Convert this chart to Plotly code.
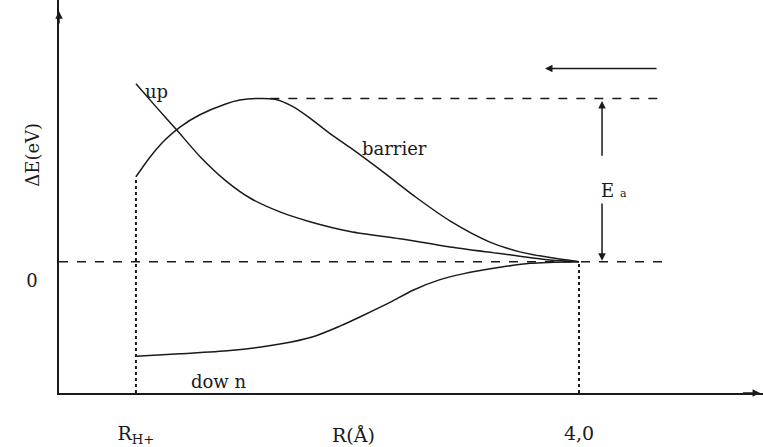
import plotly.graph_objects as go

# Potential energy curves vs. separation R (Å); energies in eV relative to the asymptote
barrier_r = [1.000, 1.095, 1.196, 1.298, 1.433, 1.603, 1.704, 1.819, 1.941, 2.063, 2.178, 2.314, 2.449,
             2.673, 2.903, 3.126, 3.397, 3.600, 3.804, 4.000]
barrier_e = [1.04, 1.28, 1.49, 1.65, 1.80, 1.93, 1.98, 2.00, 1.99, 1.90, 1.76, 1.57, 1.40,
             1.10, 0.78, 0.50, 0.24, 0.12, 0.05, 0.00]

up_r = [1.000, 1.135, 1.278, 1.433, 1.603, 1.772, 1.975, 2.178, 2.449, 2.788, 3.126, 3.465, 3.804, 4.000]
up_e = [2.18, 1.90, 1.61, 1.29, 1.00, 0.78, 0.61, 0.49, 0.37, 0.28, 0.18, 0.10, 0.02, 0.00]

down_r = [1.000, 1.298, 1.637, 1.975, 2.199, 2.381, 2.537, 2.720, 2.876, 3.059, 3.214, 3.465, 3.668, 4.000]
down_e = [-1.16, -1.13, -1.09, -1.01, -0.92, -0.79, -0.66, -0.50, -0.35, -0.22, -0.15, -0.07, -0.02, 0.00]

tick_r = [1.0, 4.0]
tick_r_text = ["R<sub>H+</sub>", "4,0"]
tick_e = [0]
tick_e_text = ["0"]

FONT = "DejaVu Serif"
INK = "#1a1a1a"

fig = go.Figure()
for r, e in [(barrier_r, barrier_e), (up_r, up_e), (down_r, down_e)]:
    fig.add_trace(go.Scatter(x=r, y=e, mode="lines",
                             line=dict(color=INK, width=1.5, shape="spline", smoothing=0.8),
                             hoverinfo="skip", showlegend=False))

x_lo, x_hi = 0.479, 5.246
y_lo, y_hi = -1.61, 3.207
ea = max(barrier_e)
r_far = barrier_r[-1]

# reference levels: asymptote (0) and barrier top (Ea)
fig.add_shape(type="line", x0=x_lo, x1=4.57, y0=0, y1=0, line=dict(color=INK, width=1.5, dash="dash"))
fig.add_shape(type="line", x0=1.91, x1=4.55, y0=ea, y1=ea, line=dict(color=INK, width=1.5, dash="dash"))
# verticals at R_H+ and at 4,0
fig.add_shape(type="line", x0=barrier_r[0], x1=barrier_r[0], y0=y_lo, y1=barrier_e[0],
              line=dict(color=INK, width=2, dash="dot"))
fig.add_shape(type="line", x0=r_far, x1=r_far, y0=y_lo, y1=0, line=dict(color=INK, width=2, dash="dot"))

ann = []
def arrow(x0, y0, x1, y1, head=2, size=1.0):
    ann.append(dict(x=x1, y=y1, ax=x0, ay=y0, xref="x", yref="y", axref="x", ayref="y", text="",
                    showarrow=True, arrowhead=head, arrowsize=size, arrowwidth=1.5, arrowcolor=INK))

# Ea double arrow
arrow(4.156, 1.28, 4.156, ea - 0.03)
arrow(4.156, 0.73, 4.156, 0.01)
# direction of approach
arrow(4.535, 2.366, 3.77, 2.366)
# axis arrowheads
arrow(x_lo, 2.9, x_lo, 3.07)
arrow(5.1, y_lo, 5.226, y_lo)

def label(x, y, text, size=18, xref="x", yref="y", **kw):
    ann.append(dict(x=x, y=y, xref=xref, yref=yref, text=text, showarrow=False,
                    font=dict(family=FONT, size=size, color=INK), **kw))

label(1.142, 2.085, "up")
label(2.754, 1.39, "barrier")
label(1.562, -1.463, "dow n")
label(4.24, 0.866, "E <span style='font-size:11px'>a</span>")
# axis titles sit outside the plotting area, so they use paper coordinates
label(0.418, -0.108, "R(Å)", size=19, xref="paper", yref="paper", xanchor="center", yanchor="middle")
label(-0.038, 0.607, "ΔE(eV)", size=18, xref="paper", yref="paper", textangle=-90,
      xanchor="center", yanchor="middle")

fig.update_layout(
    width=763, height=447,
    margin=dict(l=59, r=0, t=0, b=52),
    paper_bgcolor="white", plot_bgcolor="white",
    annotations=ann,
    xaxis=dict(range=[x_lo, x_hi], showgrid=False, zeroline=False, showline=True, linecolor=INK, linewidth=1.5,
               tickmode="array", tickvals=tick_r, ticktext=tick_r_text, ticks="",
               ticklabelstandoff=22, tickfont=dict(family=FONT, size=19, color=INK)),
    yaxis=dict(range=[y_lo, y_hi], showgrid=False, zeroline=False, showline=True, linecolor=INK, linewidth=1.5,
               tickmode="array", tickvals=tick_e, ticktext=tick_e_text, ticks="",
               ticklabelstandoff=16, ticklabelshift=19, tickfont=dict(family=FONT, size=18, color=INK)),
)

fig.write_html("out.html")
